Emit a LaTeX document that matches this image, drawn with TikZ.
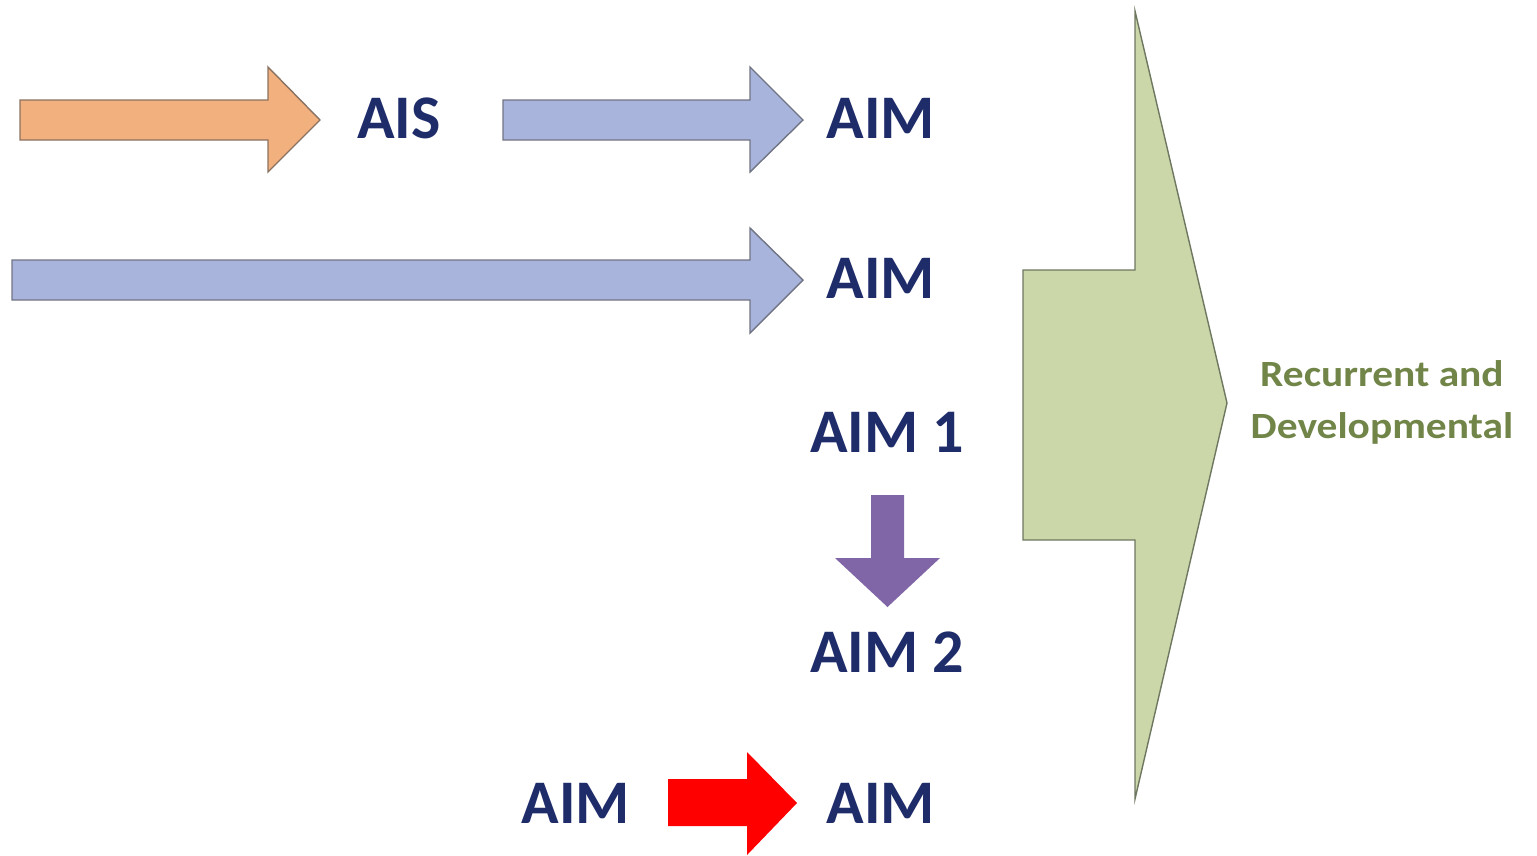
\documentclass[tikz,border=0pt]{standalone}
\usepackage{fontspec}
\setmainfont{Carlito}
\newfontfamily\widefont[FakeStretch=1.12]{Carlito}
\usetikzlibrary{positioning}
\definecolor{aimblue}{HTML}{1F2C6A}
\definecolor{peach}{HTML}{F3B07F}
\definecolor{lavender}{HTML}{A9B4DC}
\definecolor{plum}{HTML}{8066A6}
\definecolor{sage}{HTML}{CBD6A9}
\definecolor{sageline}{HTML}{6E7860}
\definecolor{olivetext}{HTML}{718548}

\begin{document}
\begin{tikzpicture}[x=1pt, y=-1pt, blockstyle/.style = {draw=#1!45!black!80, line width=1.4pt, line join=miter}, aimstyle/.style = {inner sep=0pt, text=aimblue, font=\fontsize{62}{70}\selectfont\bfseries}]
  \useasboundingbox (0,0) rectangle (1537,855);

  % AIS
  \draw[blockstyle=peach, fill=peach] (20,100) -- (268,100) -- (268,67) -- (320,120) -- (268,172) -- (268,140) -- (20,140) -- cycle;
  \node[aimstyle] (ais) at (399,118) {AIS};

  % AIS -> AIM
  \draw[blockstyle=lavender, fill=lavender] (503,100) -- (750,100) -- (750,67) -- (803,120) -- (750,172) -- (750,140) -- (503,140) -- cycle;
  \node[aimstyle] (aim_top) at (881,118) {AIM};

  % long AIM
  \draw[blockstyle=lavender, fill=lavender] (12,260) -- (750,260) -- (750,228) -- (803,280) -- (750,333) -- (750,300) -- (12,300) -- cycle;
  \node[aimstyle] (aim_long) at (881,278) {AIM};

  % AIM 1 -> AIM 2
  \node[aimstyle] (aim_one) at (887,432) {AIM 1};
  \node[aimstyle] (aim_two) at (887,652) {AIM 2};
  \fill[plum] (871,495) -- (904,495) -- (904,558) -- (940,558) -- (887.5,607) -- (835,558) -- (871,558) -- cycle;

  % AIM -> AIM
  \node[aimstyle] (aim_from) at (576,803) {AIM};
  \node[aimstyle] (aim_to) at (881,803) {AIM};
  \fill[red] (668,779) -- (747,779) -- (747,752) -- (797,803) -- (747,855) -- (747,826) -- (668,826) -- cycle;

  % Recurrent and Developmental
  \draw[draw=sageline, line width=1.4pt, fill=sage] (1023,270) -- (1135,270) -- (1135,11) -- (1227,403) -- (1135,799) -- (1135,540) -- (1023,540) -- cycle;
  \node[align=center, inner sep=0pt, text=olivetext, font=\widefont\fontsize{37}{52}\selectfont\bfseries] (recurrent) at (1382,402) {Recurrent and\\Developmental};

\end{tikzpicture}
\end{document}
